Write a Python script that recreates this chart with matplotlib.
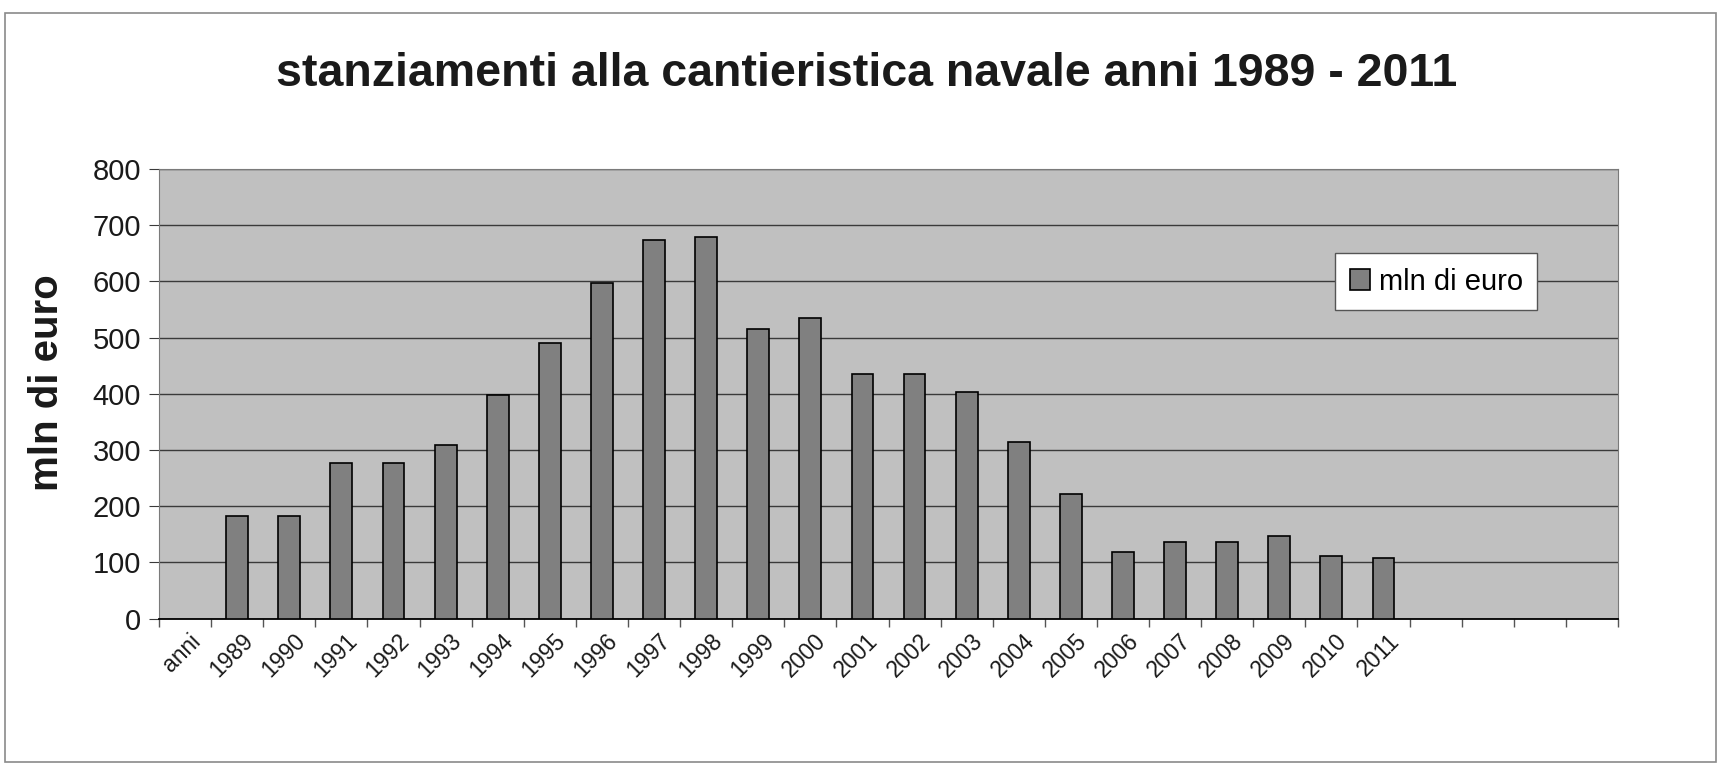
import matplotlib.pyplot as plt
from matplotlib.patches import Rectangle
from matplotlib.transforms import ScaledTranslation

plt.rcParams['font.family'] = ['Liberation Sans', 'DejaVu Sans']

# data
categorie = ["anni"] + [str(a) for a in range(1989, 2012)] + ["", "", "", ""]
anni = list(range(1989, 2012))
mln_euro = [182, 182, 277, 277, 309, 397, 490, 597, 673, 679, 515, 534,
            435, 435, 403, 314, 221, 118, 137, 137, 146, 112, 108]
yticks = [0, 100, 200, 300, 400, 500, 600, 700, 800]


def main():
    fig = plt.figure(figsize=(17.2, 7.72), dpi=100)
    fig.patch.set_facecolor("white")

    # chart border like the excel frame
    fig.patches.append(Rectangle((5 / 1720, 10 / 772), 1711 / 1720, 749 / 772,
                                 transform=fig.transFigure, fill=False,
                                 edgecolor="#8a8a8a", linewidth=1.2))

    ax = fig.add_axes([159 / 1720, (772 - 618.5) / 772, 1459 / 1720, 449.5 / 772])
    ax.set_facecolor("#c0c0c0")

    pos = [categorie.index(str(a)) + 0.5 for a in anni]
    ax.bar(pos, mln_euro, width=0.42, color="#808080", edgecolor="black",
           linewidth=1.2, label="mln di euro", zorder=3)

    ax.set_xlim(0, len(categorie))
    ax.set_ylim(0, 800)
    ax.set_yticks(yticks)
    ax.yaxis.grid(True, color="#3a3a3a", linewidth=1.0, zorder=1)
    ax.set_axisbelow(True)

    ax.set_xticks(range(len(categorie) + 1))
    ax.set_xticklabels([])
    ax.set_xticks([i + 0.5 for i in range(len(categorie))], minor=True)
    ax.set_xticklabels(categorie, minor=True, rotation=45, ha="right",
                       va="top", rotation_mode="anchor", fontsize=16.5,
                       color="#1a1a1a")
    ax.tick_params(axis="x", which="major", length=6, color="#555555", width=1)
    ax.tick_params(axis="x", which="minor", length=0, pad=8)
    ax.tick_params(axis="y", length=7, color="#3a3a3a", labelsize=21,
                   labelcolor="#1a1a1a", pad=6)

    # excel puts the end of each label a little right of the category centre
    shift = ScaledTranslation(4 / 100, 0, fig.dpi_scale_trans)
    for lab in ax.get_xticklabels(minor=True):
        lab.set_transform(lab.get_transform() + shift)

    ax.spines["top"].set_color("#7a7a7a")
    ax.spines["right"].set_color("#7a7a7a")
    ax.spines["left"].set_color("#7a7a7a")
    ax.spines["bottom"].set_color("black")
    ax.spines["bottom"].set_linewidth(1.3)

    ax.set_ylabel("mln di euro", fontsize=29, fontweight="bold",
                  color="#1a1a1a")
    ax.yaxis.set_label_coords(-0.064, 0.525)
    fig.text(867 / 1720, 1 - 74 / 772,
             "stanziamenti alla cantieristica navale anni 1989 - 2011",
             ha="center", va="center", fontsize=33.5, fontweight="bold",
             color="#1a1a1a")

    leg = ax.legend(loc="upper left", bbox_to_anchor=((1335 - 159) / 1459, (618.5 - 253) / 449.5),
                    fontsize=21, frameon=True, fancybox=False, borderpad=0.5,
                    handlelength=0.7, handleheight=0.7, handletextpad=0.3,
                    borderaxespad=0)
    leg.get_frame().set_edgecolor("#555555")
    leg.get_frame().set_facecolor("white")
    leg.get_frame().set_alpha(1)

    plt.savefig("out.png", dpi=100)
    plt.close()


if __name__ == "__main__":
    main()
